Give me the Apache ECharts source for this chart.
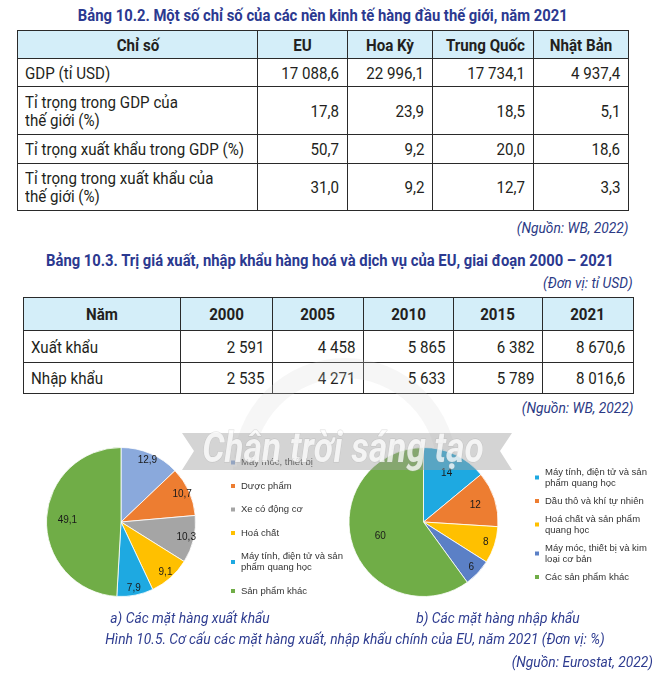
<!DOCTYPE html>
<html>
<head>
<meta charset="utf-8">
<script src="https://cdn.jsdelivr.net/npm/echarts@6/dist/echarts.min.js"></script>
<style>
  html, body { margin:0; padding:0; background:#fff; }
  #wrap { position:relative; width:667px; height:679px; overflow:hidden; background:#fff; }
  #chart { position:absolute; left:0; top:0; width:667px; height:679px; z-index:2; }
  .nar { font-family:Roboto,"Liberation Sans",sans-serif; }
  .sx { display:inline-block; white-space:nowrap; }
  .ttl { position:absolute; text-align:center; font-weight:bold; font-size:16px; line-height:18px; color:#2b3990; white-space:nowrap; z-index:1; }
  .ttl .sx { transform:scaleX(0.925); transform-origin:center; }
  .src { position:absolute; text-align:right; font-style:italic; font-size:15.5px; line-height:18px; color:#2b3a85; white-space:nowrap; z-index:1; }
  .src .sx { transform:scaleX(0.89); transform-origin:right; }
  table.tb { position:absolute; border-collapse:collapse; table-layout:fixed; color:#231f20; font-size:17px; z-index:1; }
  table.tb td, table.tb th { border:1px solid #2a2a2a; padding:0 8px; box-sizing:border-box; vertical-align:middle; line-height:18px; white-space:nowrap; overflow:hidden; }
  table.tb th { background:#d4eef9; font-weight:bold; text-align:center; }
  table.tb th .sx { transform:scaleX(0.89); transform-origin:center; }
  table.tb td.num { text-align:right; padding-right:8px; }
  table.tb td.num .sx { transform:scaleX(0.89); transform-origin:right; }
  table.tb td.lab { text-align:left; padding-left:7px; }
  table.tb td.lab .sx { transform:scaleX(0.89); transform-origin:left; }
</style>
</head>
<body>
<div id="wrap">
  <div id="t1title" class="ttl nar" style="left:17px; top:7px; width:611px;"></div>
  <table id="t1" class="tb nar" style="left:17px; top:30px; width:611px;"></table>
  <div id="t1src" class="src nar" style="left:17px; top:219px; width:611px;"></div>
  <div id="t2title" class="ttl nar" style="left:23px; top:252px; width:610px;"></div>
  <div id="t2unit" class="src nar" style="left:23px; top:274px; width:610px;"></div>
  <table id="t2" class="tb nar" style="left:23px; top:297px; width:610px;"></table>
  <div id="t2src" class="src nar" style="left:23px; top:399px; width:610px;"></div>
  <div id="chart"></div>
</div>
<script>
// ---------- Table 10.2 data ----------
const t1Title = 'Bảng 10.2. Một số chỉ số của các nền kinh tế hàng đầu thế giới, năm 2021';
const t1Header = ['Chỉ số', 'EU', 'Hoa Kỳ', 'Trung Quốc', 'Nhật Bản'];
const t1RowLabels = ['GDP (tỉ USD)', 'Tỉ trọng trong GDP của\nthế giới (%)', 'Tỉ trọng xuất khẩu trong GDP (%)', 'Tỉ trọng trong xuất khẩu của\nthế giới (%)'];
const gdpValues = [17088.6, 22996.1, 17734.1, 4937.4];
const shareWorldGdp = [17.8, 23.9, 18.5, 5.1];
const exportShareOfGdp = [50.7, 9.2, 20.0, 18.6];
const shareWorldExports = [31.0, 9.2, 12.7, 3.3];
const t1Source = '(Nguồn: WB, 2022)';

// ---------- Table 10.3 data ----------
const t2Title = 'Bảng 10.3. Trị giá xuất, nhập khẩu hàng hoá và dịch vụ của EU, giai đoạn 2000 – 2021';
const t2Unit = '(Đơn vị: tỉ USD)';
const t2FirstHeader = 'Năm';
const years = [2000, 2005, 2010, 2015, 2021];
const t2RowLabels = ['Xuất khẩu', 'Nhập khẩu'];
const exportsEU = [2591, 4458, 5865, 6382, 8670.6];
const importsEU = [2535, 4271, 5633, 5789, 8016.6];
const t2Source = '(Nguồn: WB, 2022)';

// ---------- Figure 10.5 data ----------
const exportNames = ['Máy móc, thiết bị', 'Dược phẩm', 'Xe có động cơ', 'Hoá chất', 'Máy tính, điện tử và sản phẩm quang học', 'Sản phẩm khác'];
const exportValues = [12.9, 10.7, 10.3, 9.1, 7.9, 49.1];
const importNames = ['Máy tính, điện tử và sản phẩm quang học', 'Dầu thô và khí tự nhiên', 'Hoá chất và sản phẩm quang học', 'Máy móc, thiết bị và kim loại cơ bản', 'Các sản phẩm khác'];
const importValues = [14, 12, 8, 6, 60];
const captionA = 'a) Các mặt hàng xuất khẩu';
const captionB = 'b) Các mặt hàng nhập khẩu';
const figCaption = 'Hình 10.5. Cơ cấu các mặt hàng xuất, nhập khẩu chính của EU, năm 2021 (Đơn vị: %)';
const figSource = '(Nguồn: Eurostat, 2022)';
const watermarkText = 'Chân trời sáng tạo';

// legend line breaks (text layout only)
const legendWrap = {
  'Máy tính, điện tử và sản phẩm quang học': 'Máy tính, điện tử và sản\nphẩm quang học',
  'Hoá chất và sản phẩm quang học': 'Hoá chất và sản phẩm\nquang học',
  'Máy móc, thiết bị và kim loại cơ bản': 'Máy móc, thiết bị và kim\nloại cơ bản'
};

// styles
const exportColors = ['#8aa9dc', '#ed7d31', '#a5a5a5', '#ffc000', '#1ea9e1', '#70ad47'];
const importColors = ['#1ea9e1', '#ed7d31', '#ffc000', '#5b80c6', '#70ad47'];
const exportLabelFrac = [0.86, 0.86, 0.86, 0.86, 0.86, 0.68];
const importLabelFrac = [0.69, 0.69, 0.84, 0.84, 0.57];

// ---------- number formatting (Vietnamese style) ----------
function fmt(v, dec) {
  const s = v.toFixed(dec);
  const parts = s.split('.');
  const intPart = parts[0].replace(/\B(?=(\d{3})+(?!\d))/g, '\u00a0');
  return parts.length > 1 ? intPart + ',' + parts[1] : intPart;
}
function fmtAuto(v) { return fmt(v, Number.isInteger(v) ? 0 : 1); }
function esc(s) { return s.replace(/&/g,'&amp;').replace(/</g,'&lt;').replace(/\n/g,'<br>'); }
function sx(s) { return '<span class="sx">' + esc(String(s)) + '</span>'; }
function setText(id, s) { document.getElementById(id).innerHTML = sx(s); }

// ---------- build table 1 ----------
(function(){
  setText('t1title', t1Title);
  setText('t1src', t1Source);
  const colW = [240, 90, 85, 101, 95];
  const rowH = [28, 28, 48, 29, 47];
  const rows = [gdpValues, shareWorldGdp, exportShareOfGdp, shareWorldExports];
  let html = '<colgroup>' + colW.map(w => '<col style="width:' + w + 'px">').join('') + '</colgroup>';
  html += '<tr style="height:' + rowH[0] + 'px">' + t1Header.map(h => '<th>' + sx(h) + '</th>').join('') + '</tr>';
  rows.forEach((r, i) => {
    html += '<tr style="height:' + rowH[i+1] + 'px"><td class="lab">' + sx(t1RowLabels[i]) + '</td>' +
      r.map(v => '<td class="num">' + sx(fmt(v, 1)) + '</td>').join('') + '</tr>';
  });
  document.getElementById('t1').innerHTML = html;
})();

// ---------- build table 2 ----------
(function(){
  setText('t2title', t2Title);
  setText('t2unit', t2Unit);
  setText('t2src', t2Source);
  const colW = [157, 92, 91, 90, 89, 91];
  const rowH = [33, 32, 31];
  const rows = [exportsEU, importsEU];
  let html = '<colgroup>' + colW.map(w => '<col style="width:' + w + 'px">').join('') + '</colgroup>';
  html += '<tr style="height:' + rowH[0] + 'px"><th>' + sx(t2FirstHeader) + '</th>' + years.map(y => '<th>' + sx(y) + '</th>').join('') + '</tr>';
  rows.forEach((r, i) => {
    html += '<tr style="height:' + rowH[i+1] + 'px"><td class="lab">' + sx(t2RowLabels[i]) + '</td>' +
      r.map(v => '<td class="num">' + sx(fmtAuto(v)) + '</td>').join('') + '</tr>';
  });
  document.getElementById('t2').innerHTML = html;
})();

// ---------- pies ----------
const ROBOTO = 'Roboto,"Liberation Sans",sans-serif';
const ARIAL = '"Liberation Sans",Arial,sans-serif';
const chart = echarts.init(document.getElementById('chart'), null, { renderer: 'canvas' });

function mainPie(names, values, colors, center, R) {
  return {
    type: 'pie', center: center, radius: [0, R], startAngle: 90, clockwise: true,
    avoidLabelOverlap: false, silent: true, z: 2,
    label: { show: false }, labelLine: { show: false },
    itemStyle: { borderColor: '#ffffff', borderWidth: 0.8 },
    emphasis: { disabled: true },
    data: names.map((n, i) => ({ name: n, value: values[i], itemStyle: { color: colors[i] } }))
  };
}
function labelRings(names, values, fracs, center, R) {
  const uniq = Array.from(new Set(fracs));
  return uniq.map(f => ({
    type: 'pie', center: center, radius: [(2 * f - 1) * R, R], startAngle: 90, clockwise: true,
    avoidLabelOverlap: false, silent: true, z: 3,
    itemStyle: { color: 'rgba(0,0,0,0)', borderWidth: 0 },
    emphasis: { disabled: true },
    labelLine: { show: false },
    label: { position: 'inside', fontFamily: ARIAL, fontSize: 10, color: '#1a1a1a',
             formatter: p => String(p.value).replace('.', ',') },
    data: names.map((n, i) => ({ name: n, value: values[i], label: { show: fracs[i] === f } }))
  }));
}

const leftCenter = [121, 522], rightCenter = [423.5, 522], R = 74.5;

const captionStyle = { fontFamily: ROBOTO, fontStyle: 'italic', fontSize: 15.5, fill: '#2e3c90' };
const capScale = 0.89;

const option = {
  backgroundColor: 'transparent',
  animation: false,
  legend: [
    {
      data: exportNames, orient: 'vertical', left: 229, top: 457, icon: 'rect', padding: 0,
      itemWidth: 6, itemHeight: 6, itemGap: 12.5, selectedMode: false,
      formatter: n => legendWrap[n] || n,
      textStyle: { fontFamily: ARIAL, fontSize: 9.5, lineHeight: 11, color: '#333' }
    },
    {
      data: importNames, orient: 'vertical', left: 533, top: 466.5, icon: 'rect', padding: 0,
      itemWidth: 6, itemHeight: 6, itemGap: 7, selectedMode: false,
      formatter: n => legendWrap[n] || n,
      textStyle: { fontFamily: ARIAL, fontSize: 9.5, lineHeight: 11, color: '#333' }
    }
  ],
  series: [
    mainPie(exportNames, exportValues, exportColors, leftCenter, R),
    mainPie(importNames, importValues, importColors, rightCenter, R)
  ].concat(labelRings(exportNames, exportValues, exportLabelFrac, leftCenter, R))
   .concat(labelRings(importNames, importValues, importLabelFrac, rightCenter, R)),
  graphic: [
    // faint sunburst arc of the watermark
    { type: 'sector', z: 0, silent: true,
      shape: { cx: 345, cy: 470, r0: 92, r: 112, startAngle: Math.PI, endAngle: 2 * Math.PI },
      style: { fill: '#d8d8d8', opacity: 0.22 } },
    // watermark banner
    { type: 'polygon', z: 50, silent: true,
      shape: { points: [[182, 433], [512, 433], [500, 451], [512, 470], [182, 470], [194, 451]] },
      style: { fill: '#a0a0a0', opacity: 0.45 } },
    { type: 'text', z: 51, silent: true, x: 343, y: 451, scaleX: 0.84,
      style: { text: watermarkText, fontFamily: ROBOTO, fontStyle: 'italic', fontWeight: 'bold', fontSize: 42,
               fill: 'rgba(255,255,255,0.75)', stroke: 'rgba(160,160,160,0.35)', lineWidth: 1,
               align: 'center', verticalAlign: 'middle' } },
    // captions
    { type: 'text', x: 190, y: 619, scaleX: capScale, style: Object.assign({ text: captionA, align: 'center', verticalAlign: 'middle' }, captionStyle) },
    { type: 'text', x: 498, y: 619, scaleX: capScale, style: Object.assign({ text: captionB, align: 'center', verticalAlign: 'middle' }, captionStyle) },
    { type: 'text', x: 355, y: 640, scaleX: capScale, style: Object.assign({ text: figCaption, align: 'center', verticalAlign: 'middle' }, captionStyle) },
    { type: 'text', x: 653, y: 663, scaleX: capScale, style: Object.assign({ text: figSource, align: 'right', verticalAlign: 'middle' }, captionStyle) }
  ]
};
chart.setOption(option);
</script>
</body>
</html>
